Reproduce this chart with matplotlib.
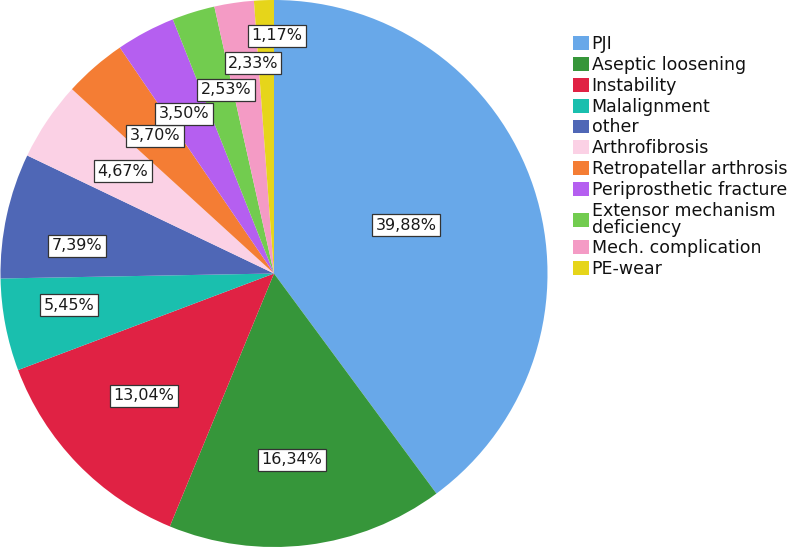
import matplotlib
matplotlib.use("Agg")
import matplotlib.pyplot as plt
from matplotlib.patches import Patch

categories = ["PJI", "Aseptic loosening", "Instability", "Malalignment", "other",
              "Arthrofibrosis", "Retropatellar arthrosis", "Periprosthetic fracture",
              "Extensor mechanism\ndeficiency", "Mech. complication", "PE-wear"]
values = [39.88, 16.34, 13.04, 5.45, 7.39, 4.67, 3.70, 3.50, 2.53, 2.33, 1.17]
labels = ["39,88%", "16,34%", "13,04%", "5,45%", "7,39%", "4,67%", "3,70%",
          "3,50%", "2,53%", "2,33%", "1,17%"]
colors = ["#68a8e9", "#36963a", "#e02244", "#1abfae", "#4f67b6", "#fbd1e5",
          "#f47d34", "#b55ff0", "#72cc4f", "#f49bc5", "#e6d51a"]

# label centre positions in pixel coordinates (layout only)
label_px = [(406, 225), (292, 460), (144, 396), (69, 305), (77, 246), (123, 171),
            (155, 136), (184, 114), (226, 90), (253, 63), (277, 36)]

W, H = 787, 547
fig = plt.figure(figsize=(W / 100, H / 100), dpi=100)
cx, cy, r = 274, 273.5, 273.5
ax = fig.add_axes([(cx - r) / W, (H - cy - r) / H, 2 * r / W, 2 * r / H])
wedges, _ = ax.pie(values, colors=colors, startangle=90, counterclock=False,
                   radius=1.0, wedgeprops=dict(linewidth=0))
ax.set_xlim(-1, 1)
ax.set_ylim(-1, 1)
ax.set_aspect("equal")
ax.axis("off")

for lab, (px, py) in zip(labels, label_px):
    ax.text((px - cx) / r, (cy - py) / r, lab, ha="center", va="center",
            fontsize=11.5, family="DejaVu Sans", color="#1a1a1a",
            bbox=dict(boxstyle="square,pad=0.2", facecolor="white",
                      edgecolor="#333333", linewidth=0.9))

handles = [Patch(facecolor=c, edgecolor="none") for c in colors]
leg = fig.legend(handles, categories, loc="upper left",
                 bbox_to_anchor=(573 / W, 1 - 35 / H),
                 frameon=False, fontsize=12.5, handlelength=0.95, handleheight=0.85,
                 handletextpad=0.12, labelspacing=0.165, borderaxespad=0, borderpad=0)
for t in leg.get_texts():
    t.set_linespacing(0.9)
    t.set_color("#111111")

fig.savefig("out.png", dpi=100)
